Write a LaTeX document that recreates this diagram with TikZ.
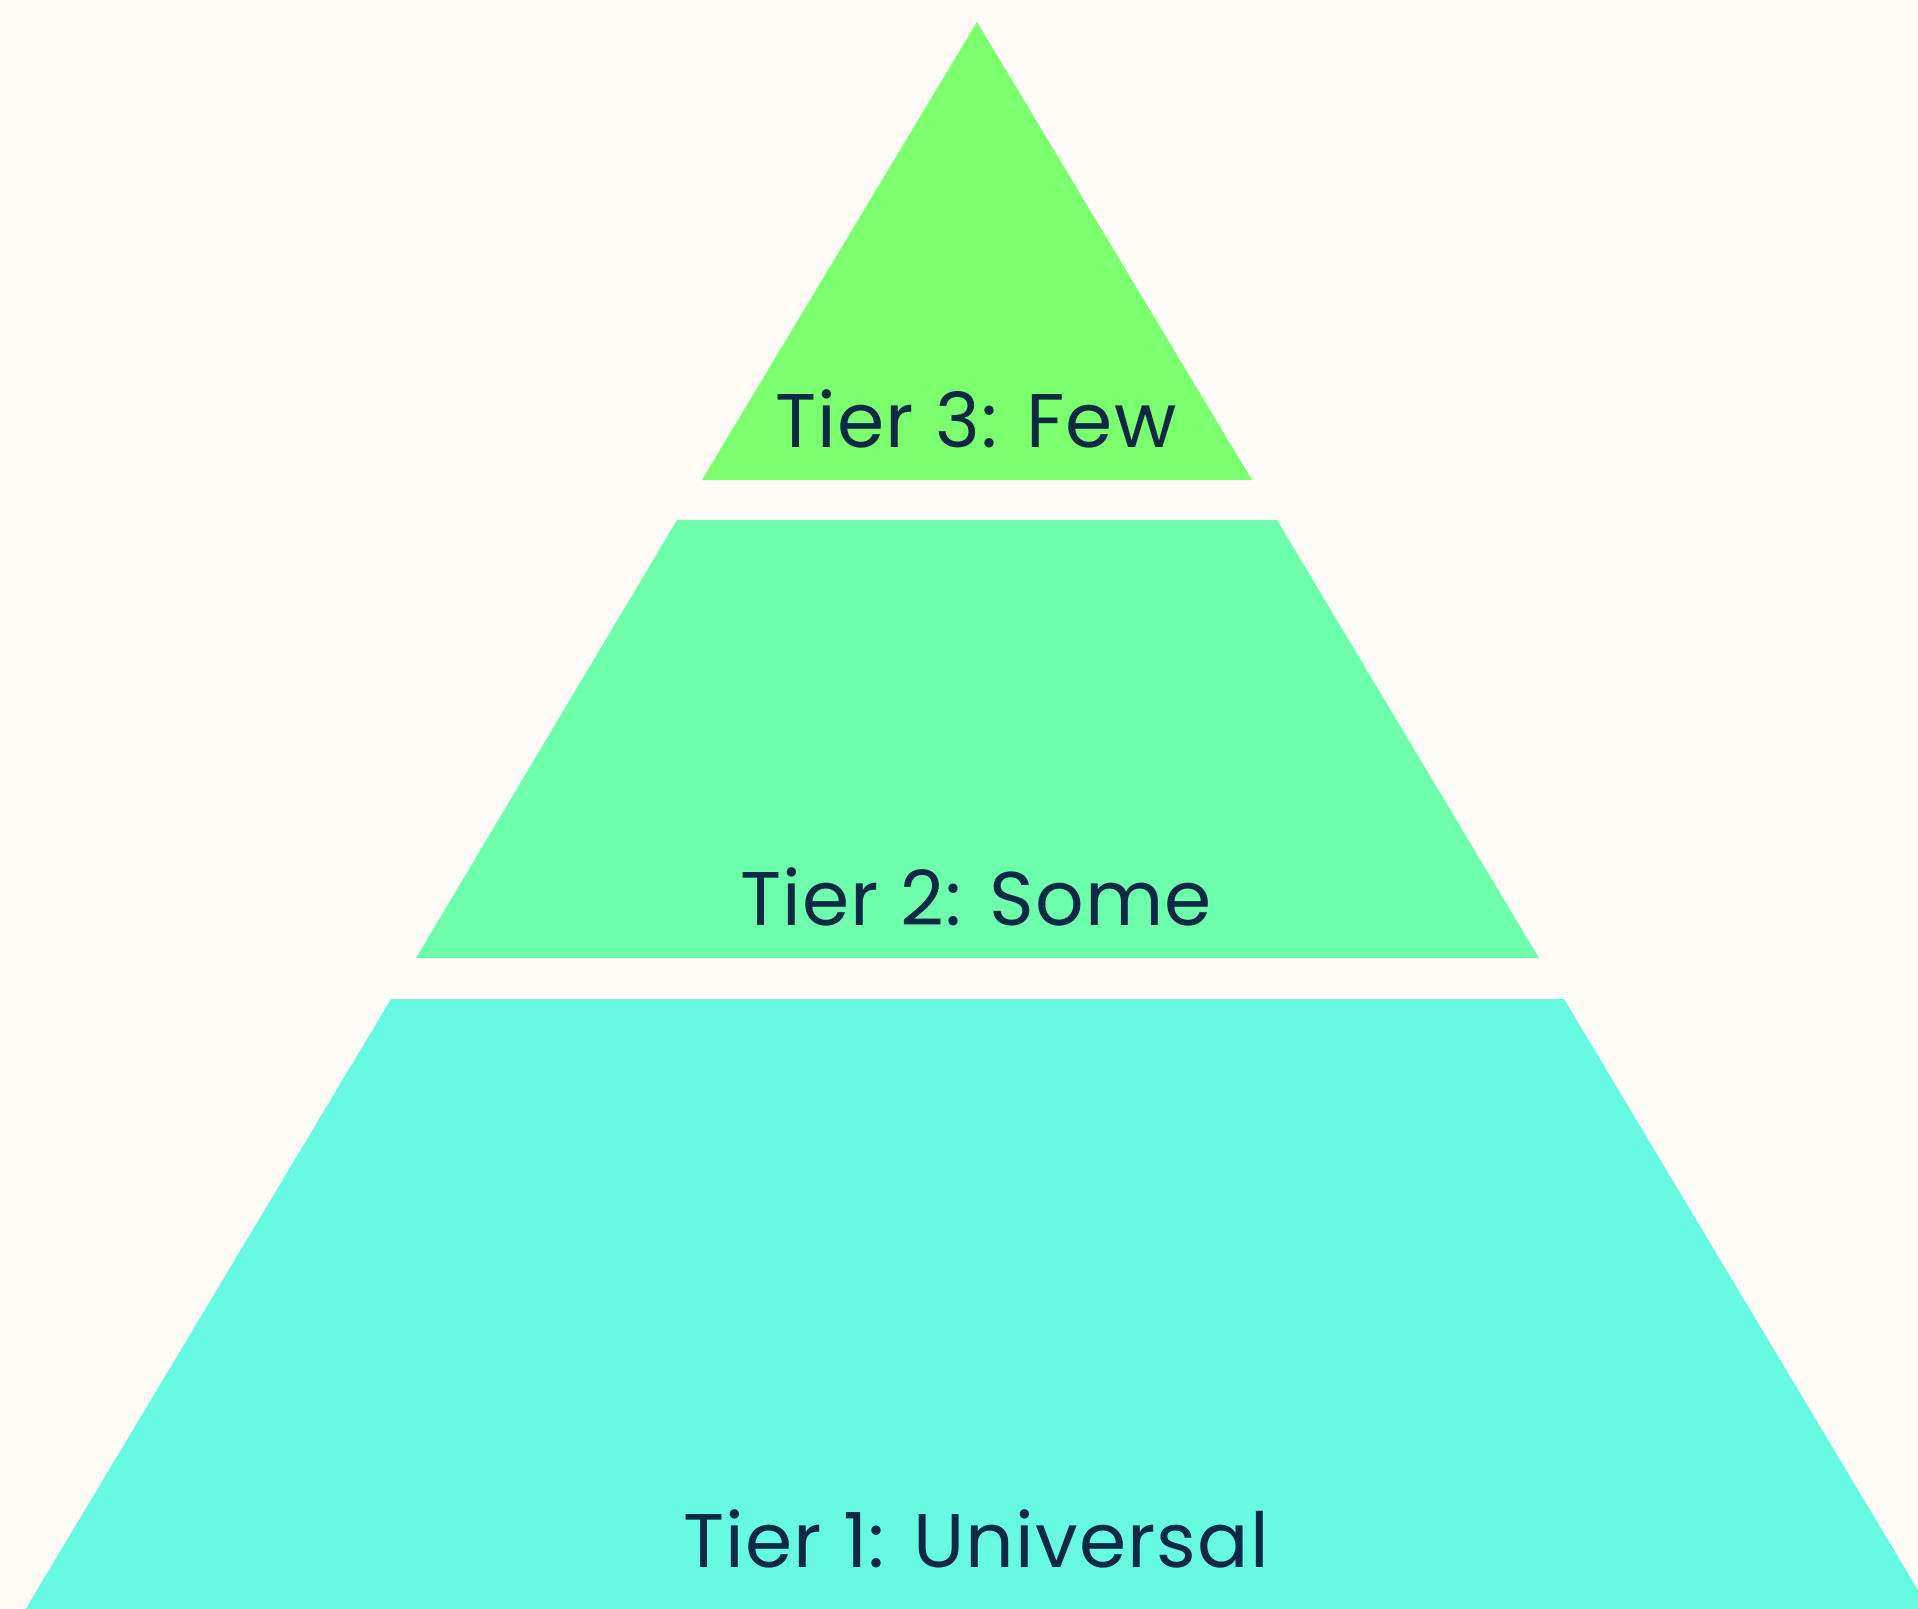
\documentclass[tikz,border=0pt]{standalone}
\usepackage{fontspec}
\setmainfont{Poppins}[LetterSpace=1.5]
\definecolor{bgc}{RGB}{255,252,248}
\definecolor{tthree}{RGB}{123,255,110}
\definecolor{ttwo}{RGB}{110,255,173}
\definecolor{tone}{RGB}{103,250,226}
\definecolor{txt}{RGB}{15,40,70}
\begin{document}
\begin{tikzpicture}[x=1pt,y=-1pt,
  tierlabel/.style={anchor=base,text=txt,font=\fontsize{76}{84}\selectfont,inner sep=0pt}]
\fill[bgc] (0,0) rectangle (1918,1608);
\useasboundingbox (0,0) rectangle (1918,1608);
\clip (0,0) rectangle (1918,1608);
\fill[tthree] (977,22) -- (1252,480) -- (702,480) -- cycle;
\fill[ttwo] (677,520) -- (1277,520) -- (1539,958) -- (416,958) -- cycle;
\fill[tone] (391,999) -- (1564,999) -- (1930,1610) -- (25,1610) -- cycle;
\node[tierlabel] (t3) at (976,447) {Tier 3: Few};
\node[tierlabel] (t2) at (976,925) {Tier 2: Some};
\node[tierlabel] (t1) at (976,1567) {Tier 1: Universal};
\end{tikzpicture}
\end{document}
